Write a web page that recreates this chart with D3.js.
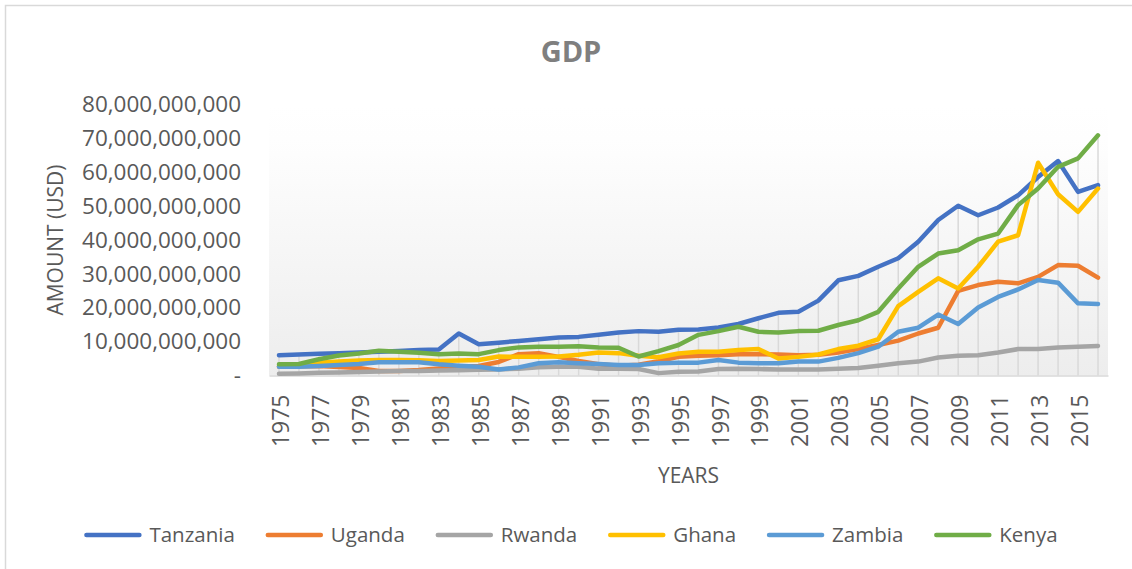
<!DOCTYPE html>
<html>
<head>
  <meta charset="utf-8">
  <title>gdp-lines</title>
  <style>
    * { padding: 0; margin: 0; }
    body { background: #fff; font-family: "Open Sans", sans-serif; }
    svg { display: block; }
  </style>
</head>
<body>
  <svg id="svg"></svg>
  <script src="https://cdnjs.cloudflare.com/ajax/libs/d3/7.8.5/d3.min.js"></script>
  <script>
    // values in billions of USD
    const years = d3.range(1975, 2017);
    const countries = ['Tanzania', 'Uganda', 'Rwanda', 'Ghana', 'Zambia', 'Kenya'];
    const colors = ['#4472C4', '#ED7D31', '#A5A5A5', '#FFC000', '#5B9BD5', '#70AD47'];

    const tanzania = [6.0, 6.2, 6.4, 6.6, 6.8, 7.0, 7.2, 7.5, 7.7, 12.4,
      9.2, 9.7, 10.2, 10.7, 11.2, 11.4, 12.0, 12.7, 13.1, 12.9,
      13.5, 13.6, 14.2, 15.2, 16.9, 18.5, 18.8, 22.1, 28.1, 29.4,
      32.1, 34.6, 39.5, 45.9, 50.1, 47.3, 49.6, 53.2, 58.6, 63.3,
      54.2, 56.2];
    const uganda = [2.6, 2.7, 2.8, 2.5, 2.2, 1.3, 1.3, 1.6, 2.1, 2.6,
      2.8, 4.0, 6.3, 6.6, 5.5, 4.3, 3.3, 2.9, 3.2, 4.2,
      5.5, 5.8, 6.0, 6.3, 6.3, 6.2, 6.0, 6.1, 6.8, 7.8,
      9.0, 10.3, 12.4, 14.1, 25.0, 26.7, 27.7, 27.2, 29.1, 32.6,
      32.4, 28.9];
    const rwanda = [0.5, 0.6, 0.8, 0.9, 1.0, 1.2, 1.3, 1.35, 1.45, 1.55,
      1.7, 1.8, 2.0, 2.4, 2.6, 2.6, 2.0, 2.0, 1.9, 0.7,
      1.1, 1.2, 1.9, 2.0, 1.9, 1.8, 1.75, 1.75, 2.0, 2.2,
      2.9, 3.6, 4.1, 5.3, 5.8, 6.0, 6.8, 7.8, 7.8, 8.3,
      8.5, 8.7];
    const ghana = [2.8, 3.0, 3.8, 4.1, 4.4, 4.6, 4.6, 4.5, 4.3, 4.4,
      4.6, 5.6, 5.5, 5.5, 5.6, 6.1, 6.8, 6.6, 5.8, 5.4,
      6.5, 7.0, 7.0, 7.5, 7.8, 5.0, 5.5, 6.2, 7.8, 8.8,
      10.7, 20.5, 24.7, 28.7, 25.7, 32.1, 39.5, 41.4, 62.8, 53.5,
      48.3, 55.2];
    const zambia = [2.6, 2.6, 2.8, 3.1, 3.4, 3.9, 3.9, 3.9, 3.3, 2.9,
      2.6, 1.8, 2.4, 3.6, 3.9, 3.6, 3.4, 3.1, 3.1, 3.6,
      3.8, 3.8, 4.6, 3.8, 3.6, 3.6, 4.1, 4.1, 5.2, 6.6,
      8.5, 12.9, 14.1, 18.0, 15.2, 20.1, 23.2, 25.4, 28.2, 27.4,
      21.3, 21.1];
    const kenya = [3.3, 3.4, 4.8, 5.9, 6.5, 7.3, 7.0, 6.7, 6.3, 6.5,
      6.3, 7.5, 8.3, 8.5, 8.5, 8.6, 8.3, 8.2, 5.6, 7.2,
      9.0, 12.0, 13.1, 14.4, 12.9, 12.7, 13.1, 13.2, 14.9, 16.3,
      18.8, 25.7, 32.1, 36.0, 37.0, 40.2, 41.9, 50.3, 55.2, 61.6,
      64.1, 70.9];
    const yTicks = [0, 10e9, 20e9, 30e9, 40e9, 50e9, 60e9, 70e9, 80e9];
    const yearTicks = years.filter(y => (y - 1975) % 2 === 0);

    const series = [tanzania, uganda, rwanda, ghana, zambia, kenya].map((vals, i) => ({
      name: countries[i],
      color: colors[i],
      values: vals.map((v, j) => ({ year: years[j], value: v * 1e9 }))
    }));

    const W = 1132, H = 569;
    const plot = { left: 269, right: 1108, top: 104.5, bottom: 375.5 };
    const textColor = '#595959';

    const svg = d3.select('#svg').attr('width', W).attr('height', H);

    // outer chart frame (cut off at right/bottom like the reference)
    svg.append('rect')
      .attr('x', 5.5).attr('y', 5.5)
      .attr('width', W + 20).attr('height', H + 20)
      .attr('fill', 'none').attr('stroke', '#d9d9d9').attr('stroke-width', 1.5);

    const x = d3.scaleBand().domain(years).range([plot.left, plot.right]).padding(0);
    const cx = d => x(d) + x.bandwidth() / 2;
    const y = d3.scaleLinear().domain([0, 80e9]).range([plot.bottom, plot.top]);

    // plot area gradient
    const grad = svg.append('defs').append('linearGradient')
      .attr('id', 'plotGrad').attr('x1', 0).attr('y1', 0).attr('x2', 0).attr('y2', 1);
    grad.append('stop').attr('offset', '0%').attr('stop-color', '#ffffff');
    grad.append('stop').attr('offset', '13%').attr('stop-color', '#fefefe');
    grad.append('stop').attr('offset', '100%').attr('stop-color', '#ededed');

    svg.append('rect')
      .attr('x', plot.left).attr('y', plot.top)
      .attr('width', plot.right - plot.left).attr('height', plot.bottom - plot.top)
      .attr('fill', 'url(#plotGrad)');

    // drop lines
    svg.append('g').selectAll('line')
      .data(years)
      .enter()
      .append('line')
      .attr('x1', d => cx(d)).attr('x2', d => cx(d))
      .attr('y1', (d, j) => y(d3.max(series, s => s.values[j].value)))
      .attr('y2', plot.bottom)
      .attr('stroke', '#d9d9d9').attr('stroke-width', 1.5);

    // x axis
    const xAxis = d3.axisBottom(x).tickValues(yearTicks).tickSize(0).tickPadding(0);
    const gx = svg.append('g')
      .attr('id', 'x-axis')
      .attr('transform', `translate(0, ${plot.bottom})`)
      .call(xAxis);
    gx.select('.domain').attr('stroke', '#d9d9d9').attr('stroke-width', 1.5);
    gx.selectAll('text')
      .attr('transform', 'rotate(-90)')
      .attr('x', -19).attr('y', 2)
      .attr('dy', '0.35em')
      .attr('text-anchor', 'end')
      .attr('fill', textColor)
      .style('font-family', '"Open Sans", sans-serif')
      .style('font-size', '23px');

    // y axis
    const yAxis = d3.axisLeft(y).tickValues(yTicks).tickSize(0).tickPadding(0)
      .tickFormat(d => d === 0 ? '-' : d3.format(',')(d));
    const gy = svg.append('g')
      .attr('id', 'y-axis')
      .attr('transform', `translate(241, 0)`)
      .call(yAxis);
    gy.select('.domain').remove();
    gy.selectAll('text')
      .attr('fill', textColor)
      .style('font-family', '"Open Sans", sans-serif')
      .style('font-size', '22.5px');

    // lines
    const line = d3.line().x(d => cx(d.year)).y(d => y(d.value));
    svg.append('g').selectAll('path')
      .data(series)
      .enter()
      .append('path')
      .attr('d', d => line(d.values))
      .attr('fill', 'none')
      .attr('stroke', d => d.color)
      .attr('stroke-width', 4.5)
      .attr('stroke-linejoin', 'round')
      .attr('stroke-linecap', 'round');

    // titles
    svg.append('text')
      .attr('x', 571).attr('y', 52).attr('dy', '0.35em')
      .attr('text-anchor', 'middle')
      .attr('fill', '#7f7f7f')
      .style('font-size', '29px').style('font-weight', 'bold')
      .text('GDP');

    svg.append('text')
      .attr('transform', `translate(56, ${(plot.top + plot.bottom) / 2}) rotate(-90)`)
      .attr('dy', '0.35em')
      .attr('text-anchor', 'middle')
      .attr('fill', textColor)
      .style('font-size', '21px')
      .text('AMOUNT (USD)');

    svg.append('text')
      .attr('x', (plot.left + plot.right) / 2).attr('y', 476).attr('dy', '0.35em')
      .attr('text-anchor', 'middle')
      .attr('fill', textColor)
      .style('font-size', '21px')
      .text('YEARS');

    // legend
    const legend = svg.append('g').attr('id', 'legend');
    const items = legend.selectAll('g')
      .data(series)
      .enter()
      .append('g');
    items.append('line')
      .attr('x1', 0).attr('x2', 53).attr('y1', 0).attr('y2', 0)
      .attr('stroke', d => d.color).attr('stroke-width', 4.5)
      .attr('stroke-linecap', 'round');
    items.append('text')
      .attr('x', 63).attr('dy', '0.35em')
      .attr('fill', textColor)
      .style('font-size', '20.5px')
      .text(d => d.name);
    let pos = 0;
    items.each(function () {
      const w = d3.select(this).select('text').node().getComputedTextLength();
      d3.select(this).attr('transform', `translate(${pos}, 0)`);
      pos += 63 + w + 33;
    });
    const total = pos - 33;
    legend.attr('transform', `translate(${572 - total / 2}, 535)`);
  </script>
</body>
</html>
